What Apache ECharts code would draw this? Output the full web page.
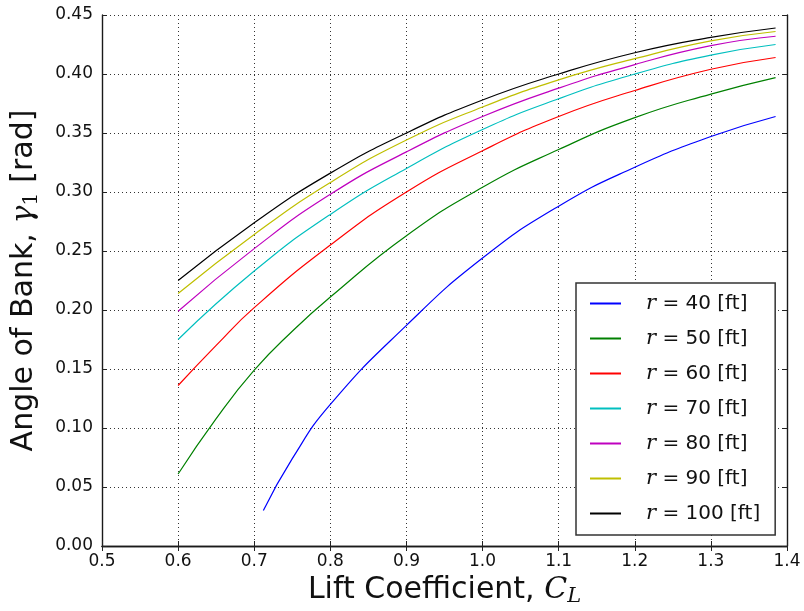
<!DOCTYPE html>
<html>
<head>
<meta charset="utf-8">
<script src="https://cdn.jsdelivr.net/npm/echarts@6/dist/echarts.min.js"></script>
<style>
  html, body { margin: 0; padding: 0; background: #fff; }
  #chart { width: 804px; height: 611px; }
</style>
</head>
<body>
<div id="chart"></div>
<script>
// Bank angle (rad) versus lift coefficient for several turn radii
const radii = [40, 50, 60, 70, 80, 90, 100];
const colors = ['#0000ff', '#008000', '#ff0000', '#00bfbf', '#bf00bf', '#bfbf00', '#000000'];

const clR40 = [0.712, 0.75, 0.8, 0.9, 1.0, 1.1, 1.2, 1.3, 1.385];
const gammaR40 = [0.030, 0.074, 0.120, 0.187, 0.244, 0.288, 0.321, 0.347, 0.364];

const clR50 = [0.6, 0.65, 0.7, 0.75, 0.8, 0.9, 1.0, 1.1, 1.2, 1.3, 1.385];
const gammaR50 = [0.061, 0.108, 0.149, 0.182, 0.211, 0.263, 0.304, 0.336, 0.363, 0.383, 0.397];

const clR60 = [0.6, 0.65, 0.7, 0.8, 0.9, 1.0, 1.1, 1.2, 1.3, 1.385];
const gammaR60 = [0.136, 0.170, 0.202, 0.255, 0.300, 0.335, 0.364, 0.386, 0.404, 0.414];

const clR70 = [0.6, 0.7, 0.8, 0.9, 1.0, 1.1, 1.2, 1.3, 1.385];
const gammaR70 = [0.175, 0.233, 0.281, 0.320, 0.353, 0.379, 0.400, 0.416, 0.425];

const clR80 = [0.6, 0.7, 0.8, 0.9, 1.0, 1.1, 1.2, 1.3, 1.385];
const gammaR80 = [0.199, 0.252, 0.298, 0.334, 0.364, 0.388, 0.408, 0.424, 0.432];

const clR90 = [0.6, 0.7, 0.8, 0.9, 1.0, 1.1, 1.2, 1.3, 1.385];
const gammaR90 = [0.214, 0.264, 0.308, 0.344, 0.372, 0.395, 0.413, 0.428, 0.436];

const clR100 = [0.6, 0.7, 0.8, 0.9, 1.0, 1.1, 1.2, 1.3, 1.385];
const gammaR100 = [0.225, 0.274, 0.316, 0.350, 0.378, 0.400, 0.418, 0.431, 0.439];

const curveX = [clR40, clR50, clR60, clR70, clR80, clR90, clR100];
const curveY = [gammaR40, gammaR50, gammaR60, gammaR70, gammaR80, gammaR90, gammaR100];

const sansFont = 'DejaVu Sans';
const mathFont = 'DejaVu Serif';

const series = radii.map((r, i) => ({
  name: 'r = ' + r + ' [ft]',
  type: 'line',
  smooth: 0.5,
  showSymbol: false,
  symbol: 'none',
  data: curveX[i].map((x, k) => [x, curveY[i][k]]),
  lineStyle: { color: colors[i], width: 1.2 },
  itemStyle: { color: colors[i] },
  xAxisIndex: 0,
  yAxisIndex: 0,
  z: 3
}));

const gridLine = { show: true, lineStyle: { color: '#333', type: [1, 3], width: 1 } };
const frameLine = { show: true, lineStyle: { color: '#1a1a1a', width: 1.4 } };
const innerTick = { show: true, inside: true, length: 5, lineStyle: { color: '#222', width: 1 } };

const chart = echarts.init(document.getElementById('chart'), null, { renderer: 'canvas' });
chart.setOption({
  animation: false,
  backgroundColor: '#fff',
  grid: { left: 102, right: 17, top: 15, bottom: 65, containLabel: false, outerBoundsMode: 'none' },
  xAxis: [{
    type: 'value', min: 0.5, max: 1.4, interval: 0.1, position: 'bottom',
    axisLine: frameLine, axisTick: innerTick, splitLine: gridLine,
    axisLabel: { color: '#111', fontFamily: sansFont, fontSize: 17, margin: 7,
      formatter: v => v.toFixed(1) },
    name: 'Lift Coefficient, {c|C}{s|L}',
    nameLocation: 'middle', nameGap: 22,
    nameTextStyle: {
      color: '#111', fontFamily: sansFont, fontSize: 30,
      rich: {
        c: { fontFamily: mathFont, fontStyle: 'italic', fontSize: 30, color: '#111' },
        s: { fontFamily: mathFont, fontStyle: 'italic', fontSize: 21, color: '#111', padding: [14, 0, 0, 0] }
      }
    }
  }, {
    type: 'value', min: 0.5, max: 1.4, interval: 0.1, position: 'top',
    axisLine: frameLine, axisTick: innerTick, splitLine: { show: false },
    axisLabel: { show: false }
  }],
  yAxis: [{
    type: 'value', min: 0, max: 0.45, interval: 0.05, position: 'left',
    axisLine: frameLine, axisTick: innerTick, splitLine: gridLine,
    axisLabel: { color: '#111', fontFamily: sansFont, fontSize: 17, margin: 9,
      formatter: v => v.toFixed(2) },
    name: 'Angle of Bank, {g|γ}{s|1} [rad]',
    nameLocation: 'middle', nameGap: 60,
    nameTextStyle: {
      color: '#111', fontFamily: sansFont, fontSize: 30,
      rich: {
        g: { fontFamily: mathFont, fontStyle: 'italic', fontSize: 30, color: '#111' },
        s: { fontFamily: mathFont, fontSize: 21, color: '#111', padding: [14, 0, 0, 0] }
      }
    }
  }, {
    type: 'value', min: 0, max: 0.45, interval: 0.05, position: 'right',
    axisLine: frameLine, axisTick: innerTick, splitLine: { show: false },
    axisLabel: { show: false }
  }],
  legend: {
    orient: 'vertical',
    left: 576, top: 283,
    backgroundColor: '#fff',
    borderColor: '#333', borderWidth: 1.5, borderRadius: 0,
    padding: [3, 15, 4, 14],
    itemWidth: 31, itemHeight: 2, itemGap: 0,
    icon: 'rect',
    data: series.map(s => s.name),
    formatter: name => '{p| }{i|r}{t| = ' + name.slice(4) + '}',
    textStyle: {
      color: '#111', fontFamily: sansFont, fontSize: 20, lineHeight: 35,
      rich: {
        p: { width: 20, fontSize: 20, lineHeight: 35 },
        i: { fontFamily: mathFont, fontStyle: 'italic', fontSize: 21, lineHeight: 35, color: '#111' },
        t: { fontFamily: sansFont, fontSize: 20, lineHeight: 35, color: '#111' }
      }
    },
    z: 10
  },
  series: series
});
</script>
</body>
</html>
